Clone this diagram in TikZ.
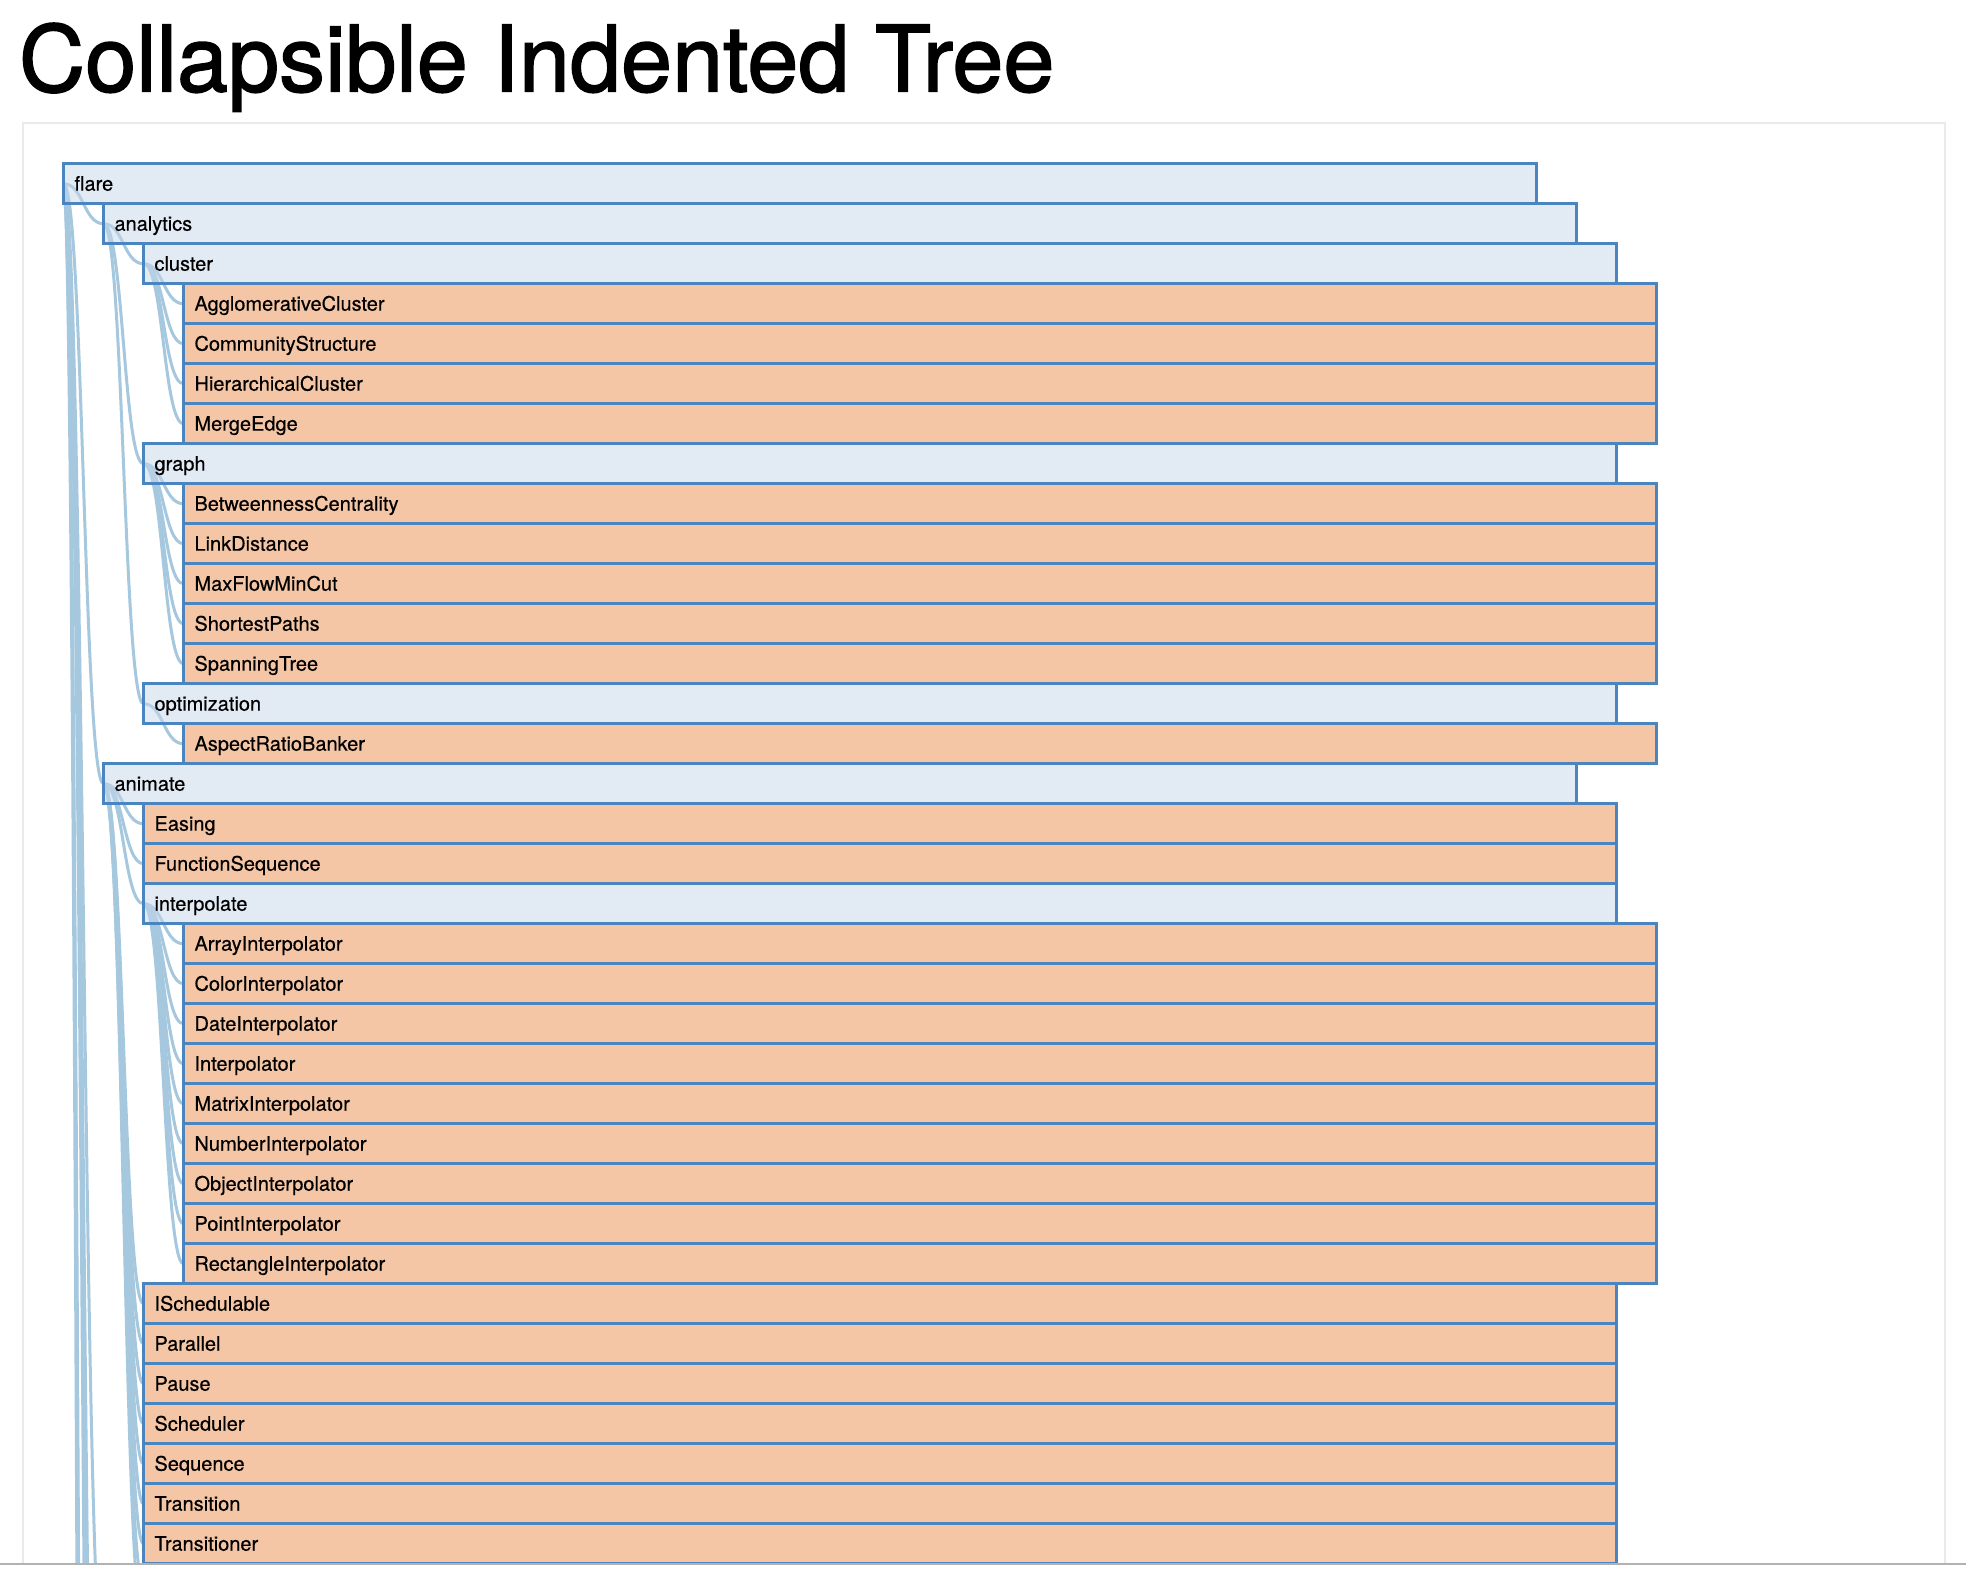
\documentclass[tikz,border=0pt]{standalone}
\usepackage{fontspec}
\setmainfont{TeX Gyre Heros}
\newfontfamily\headfont{TeX Gyre Heros}[FakeBold=1.6]
\newfontfamily\rowfont{TeX Gyre Heros}[FakeBold=0.4]
\usetikzlibrary{backgrounds}
\definecolor{folderfill}{RGB}{199,215,235}
\definecolor{leaffill}{RGB}{235,143,77}
\definecolor{rowline}{RGB}{74,133,191}
\definecolor{linkcol}{RGB}{166,200,223}
\definecolor{framecol}{RGB}{234,234,234}
\definecolor{edgecol}{RGB}{178,178,178}
\tikzset{
  row/.style={draw=rowline, line width=1.5pt, fill=#1, fill opacity=0.5, text opacity=1,
    anchor=west, outer sep=0pt, inner xsep=5.5pt, inner ysep=0pt,
    minimum width=736.25pt, minimum height=20pt, text width=725.25pt, align=left,
    text height=7pt, text depth=0pt, font=\rowfont\fontsize{10pt}{12pt}\selectfont},
  link/.style={draw=linkcol, line width=1.5pt}
}
\begin{document}
\begin{tikzpicture}[x=0.5pt,y=-0.5pt]
\useasboundingbox (0,0) rectangle (1966,1574);
\node[anchor=base west, inner sep=0pt, font=\headfont\fontsize{45.9pt}{50pt}\selectfont] (title) at (18.6,91.5) {Collapsible Indented Tree};
% rows of the tree
\foreach \d/\n/\k [count=\i from 0] in {0/flare/folderfill, 1/analytics/folderfill, 2/cluster/folderfill,
  3/AgglomerativeCluster/leaffill, 3/CommunityStructure/leaffill, 3/HierarchicalCluster/leaffill, 3/MergeEdge/leaffill,
  2/graph/folderfill, 3/BetweennessCentrality/leaffill, 3/LinkDistance/leaffill, 3/MaxFlowMinCut/leaffill,
  3/ShortestPaths/leaffill, 3/SpanningTree/leaffill, 2/optimization/folderfill, 3/AspectRatioBanker/leaffill,
  1/animate/folderfill, 2/Easing/leaffill, 2/FunctionSequence/leaffill, 2/interpolate/folderfill,
  3/ArrayInterpolator/leaffill, 3/ColorInterpolator/leaffill, 3/DateInterpolator/leaffill, 3/Interpolator/leaffill,
  3/MatrixInterpolator/leaffill, 3/NumberInterpolator/leaffill, 3/ObjectInterpolator/leaffill,
  3/PointInterpolator/leaffill, 3/RectangleInterpolator/leaffill, 2/ISchedulable/leaffill, 2/Parallel/leaffill,
  2/Pause/leaffill, 2/Scheduler/leaffill, 2/Sequence/leaffill, 2/Transition/leaffill, 2/Transitioner/leaffill}
  \node[row=\k] (\n) at ({63.5+40*\d},{183.7+40*\i}) {\n};
% rows below the visible part
\foreach \d/\n/\i in {2/TransitionEvent/35, 2/Tween/36, 1/data/37, 1/display/50, 1/flex/55, 1/physics/57,
  1/query/66, 1/scale/128, 1/util/139, 1/vis/168}
  \coordinate (\n) at ({63.5+40*\d},{183.7+40*\i});
\begin{scope}[on background layer]
  \fill[white] (0,0) rectangle (1966,1574);
  \draw[framecol, line width=1pt] (22.7,1564) |- (1944.7,122.7) -- (1944.7,1564);
  \clip (0,0) rectangle (1966,1564);
  \foreach \p/\c in {flare/analytics, flare/animate, flare/data, flare/display, flare/flex, flare/physics,
    flare/query, flare/scale, flare/util, flare/vis, analytics/cluster, analytics/graph, analytics/optimization,
    cluster/AgglomerativeCluster, cluster/CommunityStructure, cluster/HierarchicalCluster, cluster/MergeEdge,
    graph/BetweennessCentrality, graph/LinkDistance, graph/MaxFlowMinCut, graph/ShortestPaths, graph/SpanningTree,
    optimization/AspectRatioBanker, animate/Easing, animate/FunctionSequence, animate/interpolate,
    animate/ISchedulable, animate/Parallel, animate/Pause, animate/Scheduler, animate/Sequence,
    animate/Transition, animate/Transitioner, animate/TransitionEvent, animate/Tween,
    interpolate/ArrayInterpolator, interpolate/ColorInterpolator, interpolate/DateInterpolator,
    interpolate/Interpolator, interpolate/MatrixInterpolator, interpolate/NumberInterpolator,
    interpolate/ObjectInterpolator, interpolate/PointInterpolator, interpolate/RectangleInterpolator}
    \draw[link] (\p.west) .. controls +(20,0) and +(-20,0) .. (\c.west);
\end{scope}
\draw[edgecol, line width=1pt] (0,1564.3) -- (1966,1564.3);
\end{tikzpicture}
\end{document}
